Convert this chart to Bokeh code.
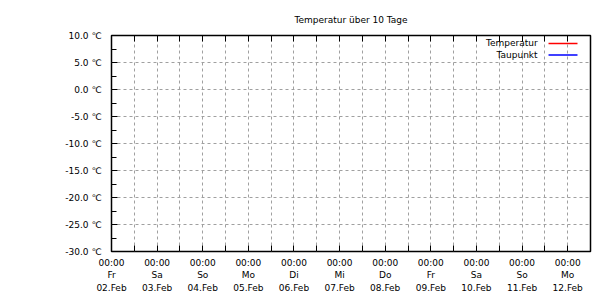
from bokeh.plotting import figure
from bokeh.models import Range1d, FixedTicker, SingleIntervalTicker, LinearAxis, Label, Grid
from bokeh.embed import file_html
from bokeh.resources import INLINE

# ---- data ----
title_text = "Temperatur über 10 Tage"
times = ["00:00"] * 11
weekdays = ["Fr", "Sa", "So", "Mo", "Di", "Mi", "Do", "Fr", "Sa", "So", "Mo"]
dates = ["02.Feb", "03.Feb", "04.Feb", "05.Feb", "06.Feb", "07.Feb",
         "08.Feb", "09.Feb", "10.Feb", "11.Feb", "12.Feb"]
day_index = list(range(11))          # days since 02.Feb 00:00
x_end = 10.5                         # axis ends 12.Feb 12:00
y_min, y_max = -30, 10
y_step = 5
# measured series (empty in the reference: no values drawn)
temperatur_x, temperatur_y = [], []
taupunkt_x, taupunkt_y = [], []
series_names = ["Temperatur", "Taupunkt"]
series_colors = ["#ff0000", "#0000ff"]

FONT = "DejaVu Sans"
FS = "9px"

p = figure(width=610, height=300, output_backend="svg", toolbar_location=None,
           x_range=Range1d(0, x_end), y_range=Range1d(y_min, y_max),
           min_border_left=111, min_border_right=20, min_border_top=35,
           min_border_bottom=49, x_axis_type=None, y_axis_type=None,
           background_fill_color="white", border_fill_color="white")
p.outline_line_color = "black"
p.outline_line_width = 1.5

p.title.text = title_text
p.title.align = "center"
p.title.vertical_align = "top"
p.title.text_font = FONT
p.title.text_font_size = FS
p.title.text_font_style = "normal"
p.title.text_color = "black"
p.title.standoff = 17

xt = FixedTicker(ticks=day_index, minor_ticks=[d + 0.5 for d in day_index[:-1]] + [x_end])
yt = SingleIntervalTicker(interval=y_step, num_minor_ticks=2)

def style_axis(ax, tin, minin):
    ax.axis_line_color = None
    ax.major_tick_in = tin
    ax.major_tick_out = 0
    ax.minor_tick_in = minin
    ax.minor_tick_out = 0
    ax.major_tick_line_color = "black"
    ax.minor_tick_line_color = "black"
    ax.major_label_text_font = FONT
    ax.major_label_text_font_size = FS
    ax.major_label_text_color = "black"

xb = LinearAxis(ticker=xt)
style_axis(xb, 6, 6)
xb.major_label_overrides = {d: f"{t}\n{w}\n{dt}" for d, t, w, dt in zip(day_index, times, weekdays, dates)}
xb.major_label_standoff = 6
xb.major_label_text_line_height = 1.25
p.add_layout(xb, "below")

xa = LinearAxis(ticker=xt)
style_axis(xa, 6, 6)
xa.major_label_text_font_size = "0px"
xa.major_label_standoff = 0
xa.major_label_overrides = {d: "" for d in day_index}
p.add_layout(xa, "above")

yl = LinearAxis(ticker=yt)
style_axis(yl, 6, 5)
yl.major_label_standoff = 10
yl.major_label_overrides = {v: f"{v:.1f} ℃" for v in range(y_min, y_max + 1, y_step)}
p.add_layout(yl, "left")

gx = Grid(dimension=0, ticker=xt, grid_line_color="#a0a0a0", grid_line_dash="3 3",
          minor_grid_line_color="#a0a0a0", minor_grid_line_dash="3 3")
gy = Grid(dimension=1, ticker=yt, grid_line_color="#a0a0a0", grid_line_dash="3 3")
p.add_layout(gx)
p.add_layout(gy)

# series (empty)
p.line(temperatur_x, temperatur_y, line_color=series_colors[0], line_width=1)
p.line(taupunkt_x, taupunkt_y, line_color=series_colors[1], line_width=1)

# legend (top right, text left of sample line, gnuplot style)
leg_text_x = 9.34
leg_line_x = [9.58, 10.215]
leg_rows_y = [8.52, 6.39]
for name, col, ly in zip(series_names, series_colors, leg_rows_y):
    p.add_layout(Label(x=leg_text_x, y=ly, text=name, text_align="right",
                       text_baseline="middle", text_font=FONT,
                       text_font_size=FS, text_color="black"))
    p.line(leg_line_x, [ly, ly], line_color=col, line_width=1.3)

open("out.html", "w").write(file_html(p, INLINE))
